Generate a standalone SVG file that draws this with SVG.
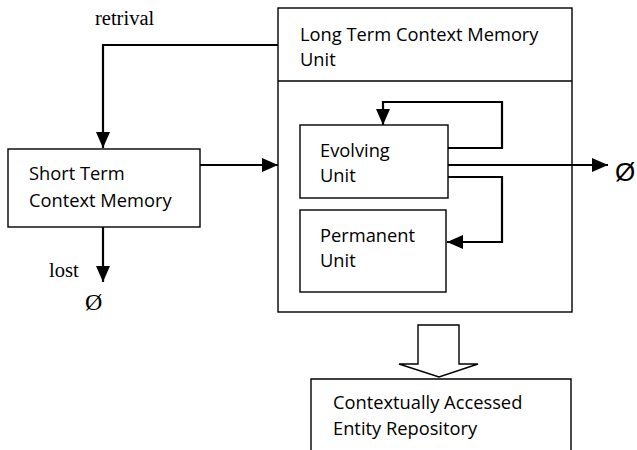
<svg xmlns="http://www.w3.org/2000/svg" width="637" height="450" viewBox="0 0 637 450">
  <style>
    .box { fill: #fff; stroke: #000; stroke-width: 1.4; }
    .lbl { font-family: "Open Sans", "Liberation Sans", sans-serif; font-size: 18.3px; fill: #000; }
    .serif { font-family: "Liberation Serif", serif; font-size: 20.5px; fill: #000; }
    .wire { fill: none; stroke: #000; stroke-width: 2.2; }
  </style>
  <defs>
    <marker id="ah" markerUnits="userSpaceOnUse" markerWidth="16" markerHeight="16" viewBox="0 0 16 16" refX="16" refY="8" orient="auto">
      <path d="M0,1 L16,8 L0,15 Z" fill="#000"/>
    </marker>
  </defs>

  <rect width="637" height="450" fill="#fff"/>

  <!-- Long term memory unit: header and body -->
  <g id="long-term">
    <rect class="box" x="278" y="8" width="294" height="304"/>
    <line x1="278" y1="81" x2="572" y2="81" stroke="#000" stroke-width="1.4"/>
    <text class="lbl" x="300" y="41">Long Term Context Memory</text>
    <text class="lbl" x="300" y="66">Unit</text>
  </g>

  <g id="short-term">
    <rect class="box" x="8" y="149" width="192" height="78"/>
    <text class="lbl" x="29" y="180">Short Term</text>
    <text class="lbl" x="29" y="207">Context Memory</text>
  </g>

  <g id="evolving">
    <rect class="box" x="300" y="125" width="148" height="73"/>
    <text class="lbl" x="320" y="157">Evolving</text>
    <text class="lbl" x="320" y="182">Unit</text>
  </g>

  <g id="permanent">
    <rect class="box" x="300" y="210" width="146" height="82"/>
    <text class="lbl" x="320" y="242">Permanent</text>
    <text class="lbl" x="320" y="267">Unit</text>
  </g>

  <g id="repository">
    <path class="box" d="M311,452 L311,379 L571,379 L571,452"/>
    <text class="lbl" x="333" y="409">Contextually Accessed</text>
    <text class="lbl" x="333" y="435">Entity Repository</text>
  </g>

  <g id="connectors">
    <!-- retrieval from long term to short term -->
    <path class="wire" d="M278,45 L103,45 L103,148" marker-end="url(#ah)"/>
    <text class="serif" x="95" y="25">retrival</text>
    <!-- short term into long term -->
    <path class="wire" d="M200,165 L278,165" marker-end="url(#ah)"/>
    <!-- loss from short term -->
    <path class="wire" d="M103,227 L103,282" marker-end="url(#ah)"/>
    <text class="serif" x="49" y="277">lost</text>
    <text class="serif" x="85" y="310" style="font-size:24px">Ø</text>
    <!-- evolving self-loop -->
    <path class="wire" d="M448,148 L502,148 L502,102 L383,102 L383,125" marker-end="url(#ah)"/>
    <!-- evolving discard -->
    <path class="wire" d="M448,165 L608,165" marker-end="url(#ah)"/>
    <text x="615" y="181" font-family="Liberation Sans, sans-serif" font-size="26" fill="#000">Ø</text>
    <!-- evolving to permanent -->
    <path class="wire" d="M448,177 L502,177 L502,242 L447,242" marker-end="url(#ah)"/>
    <!-- hollow block arrow down to repository -->
    <path d="M418,325 L459,325 L459,364 L478,364 L439,377 L399,364 L418,364 Z" fill="#fff" stroke="#000" stroke-width="1.4" stroke-linejoin="miter"/>
  </g>
</svg>
